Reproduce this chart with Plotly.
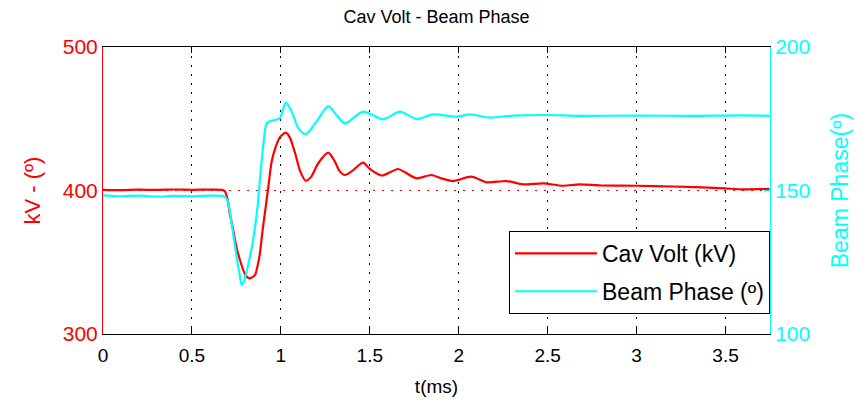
import plotly.graph_objects as go

# ---- data ----
t_volt = [0, 0.1, 0.2, 0.3, 0.4, 0.5, 0.6, 0.67, 0.685, 0.70, 0.713, 0.732, 0.751, 0.770,
          0.79, 0.807, 0.826, 0.854, 0.870, 0.882, 0.897, 0.910, 0.929, 0.948, 0.970, 0.994,
          1.028, 1.05, 1.08, 1.11, 1.140, 1.17, 1.21, 1.266, 1.30, 1.33, 1.360, 1.40, 1.462,
          1.50, 1.556, 1.575, 1.659, 1.70, 1.762, 1.846, 1.90, 1.968, 2.071, 2.156, 2.268,
          2.361, 2.474, 2.586, 2.680, 2.8, 2.998, 3.2, 3.371, 3.5, 3.596, 3.747]
cav_volt = [400.5, 400.3, 400.6, 400.4, 400.7, 400.5, 400.6, 400.4, 399.5, 394, 384, 372.5, 360, 351.6,
            344, 340, 338.8, 341, 348, 356, 372, 384, 402, 420, 430, 437,
            440.3, 437, 426, 413, 406.8, 409.5, 419, 426.4, 421, 413.5, 410.8, 413.5, 419.4,
            415, 410.8, 410.5, 415, 412.5, 408.5, 410.8, 408.5, 406.6, 409.6, 405.7, 406.6,
            404.3, 405, 403.3, 404.3, 403.5, 403.3, 402.8, 402.2, 401.5, 400.8, 401.2]

t_phase = [0, 0.1, 0.2, 0.3, 0.4, 0.5, 0.6, 0.68, 0.70, 0.723, 0.751, 0.770, 0.779, 0.79,
           0.807, 0.844, 0.87, 0.882, 0.90, 0.920, 0.948, 0.994, 1.028, 1.06, 1.10, 1.140,
           1.20, 1.266, 1.31, 1.360, 1.462, 1.575, 1.669, 1.762, 1.855, 1.987, 2.062, 2.174,
           2.303, 2.493, 2.680, 3.0, 3.3, 3.6, 3.747]
beam_phase = [148.3, 148.0, 148.2, 147.9, 148.1, 148.0, 148.2, 148.0, 146.5, 138.6, 126.9, 120, 117.1, 118,
              121.7, 132.8, 145, 153.7, 165, 173.4, 174.3, 175.2, 180.6, 177.5, 171.5, 169.6,
              174, 179.4, 176.5, 173.4, 177.5, 174.8, 177.5, 174.9, 176.5, 175.7, 176.5, 175.4,
              176.1, 176.3, 176.0, 176.1, 176.0, 176.2, 176.0]

x_ticks = [0, 0.5, 1, 1.5, 2, 2.5, 3, 3.5]
y1_ticks = [300, 400, 500]
y2_ticks = [100, 150, 200]

RED = "#FF0000"
CYAN = "#00FFFF"
FONT = "Liberation Sans, Arial, sans-serif"

fig = go.Figure()
fig.add_trace(go.Scatter(x=t_volt, y=cav_volt, mode="lines", name="Cav Volt (kV)",
                         line=dict(color=RED, width=2.2, shape="spline", smoothing=0.7),
                         legendgroup="a"))
fig.add_trace(go.Scatter(x=t_phase, y=beam_phase, mode="lines", name="Beam Phase (º)",
                         line=dict(color=CYAN, width=2.2, shape="spline", smoothing=0.7),
                         yaxis="y2", legendgroup="b"))

fig.update_layout(
    width=861, height=406,
    margin=dict(l=103, r=91, t=47, b=72),
    paper_bgcolor="white", plot_bgcolor="white",
    font=dict(family=FONT, color="black"),
    title=dict(text="Cav Volt - Beam Phase", x=0.507, xanchor="center",
               y=1 - 17 / 406, yanchor="middle", yref="container",
               font=dict(size=18, color="black")),
    xaxis=dict(range=[0, 3.75], tickvals=x_ticks, ticks="inside", ticklen=6,
               tickcolor="black", showline=True, linecolor="black", linewidth=1,
               mirror="ticks", showgrid=True, gridcolor="black", griddash="2px,7px",
               gridwidth=1, zeroline=False, tickfont=dict(size=19, color="black"),
               ticklabelstandoff=4,
               title=dict(text="t(ms)", font=dict(size=19, color="black"), standoff=14)),
    yaxis=dict(range=[300, 500], tickvals=y1_ticks, ticks="inside", ticklen=6,
               tickcolor=RED, showline=True, linecolor=RED, linewidth=1,
               showgrid=True, gridcolor=RED, griddash="2px,7px", gridwidth=1,
               zeroline=False, tickfont=dict(size=21, color=RED),
               title=dict(text="kV - (º)", font=dict(size=22, color=RED), standoff=16)),
    yaxis2=dict(range=[100, 200], tickvals=y2_ticks, overlaying="y", side="right",
                ticks="inside", ticklen=6, tickcolor=CYAN, showline=True, linecolor=CYAN,
                linewidth=1, showgrid=False, zeroline=False,
                tickfont=dict(size=21, color=CYAN),
                title=dict(text="Beam Phase(º)", font=dict(size=23, color=CYAN), standoff=22)),
    legend=dict(x=1, xanchor="right", y=0.07, yanchor="bottom", bgcolor="white",
                bordercolor="black", borderwidth=1, font=dict(size=23, color="black"),
                traceorder="grouped", tracegroupgap=5, itemwidth=82),
    showlegend=True,
)

fig.write_html("out.html")
